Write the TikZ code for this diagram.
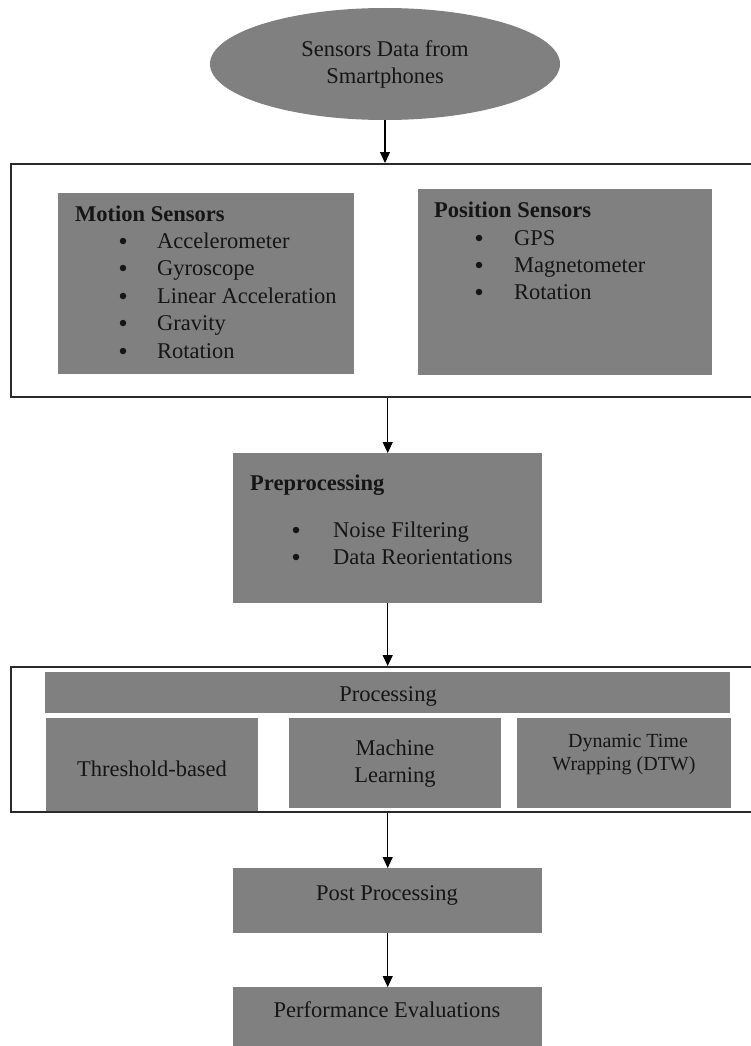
\documentclass[tikz,border=0pt]{standalone}
\usepackage{fontspec}
\setmainfont{Liberation Serif}
\usetikzlibrary{shapes.geometric,arrows.meta}
\definecolor{boxgray}{HTML}{808080}
\definecolor{ink}{HTML}{151515}
\definecolor{framec}{HTML}{2A2A2A}
\tikzset{
  gbox/.style={fill=boxgray, draw=none, inner sep=0pt, anchor=north west},
  frame/.style={draw=framec, line width=2pt, fill=none, inner sep=0pt, anchor=north west},
  arr/.style={draw=black, line width=1.1pt, -{Triangle[width=10pt,length=11pt]}},
  txt/.style={text=ink, inner sep=0pt, anchor=base west, font=\fontsize{22.5}{27.5}\selectfont},
  ctxt/.style={txt, anchor=base},
  btxt/.style={txt, font=\fontsize{22.5}{27.5}\selectfont\bfseries},
  stxt/.style={ctxt, font=\fontsize{20}{23}\selectfont},
  dot/.style={circle, fill=ink, draw=none, inner sep=0pt, minimum size=6.5pt},
}
\begin{document}
\begin{tikzpicture}[x=1pt,y=-1pt]
\useasboundingbox (0,0) rectangle (750,1046);

% source
\node[ellipse, fill=boxgray, draw=none, minimum width=350pt, minimum height=112pt,
      text=ink, align=center, font=\fontsize{22.5}{27}\selectfont] (src) at (385,64)
      {Sensors Data from\\Smartphones};

% sensor group
\node[frame, minimum width=750pt, minimum height=233pt] (frameA) at (10,163) {};
\node[gbox, minimum width=296pt, minimum height=181pt] (motion) at (58,193) {};
\node[gbox, minimum width=294pt, minimum height=186pt] (position) at (418,189) {};

\node[btxt] (motionT) at (75,221) {Motion Sensors};
\foreach \y/\t [count=\i] in {248/Accelerometer, 275/Gyroscope, 303/Linear Acceleration, 330/Gravity, 358/Rotation}{
  \node[dot] (mb\i) at (123,\y-7) {};
  \node[txt] (mi\i) at (157,\y) {\t};
}
\node[btxt] (positionT) at (434,217) {Position Sensors};
\foreach \y/\t [count=\i] in {245/GPS, 272/Magnetometer, 299/Rotation}{
  \node[dot] (pb\i) at (479,\y-7) {};
  \node[txt] (pi\i) at (514,\y) {\t};
}

% preprocessing
\node[gbox, minimum width=309pt, minimum height=150pt] (pre) at (233,453) {};
\node[btxt] (preT) at (250,490) {Preprocessing};
\node[dot] (preb1) at (296,530) {};
\node[txt] (prei1) at (333,537) {Noise Filtering};
\node[dot] (preb2) at (296,557) {};
\node[txt] (prei2) at (333,564) {Data Reorientations};

% processing group
\node[frame, minimum width=750pt, minimum height=145pt] (frameB) at (10,666) {};
\node[gbox, minimum width=685pt, minimum height=41pt] (proc) at (45,672) {};
\node[ctxt] (procT) at (388,701) {Processing};
\node[gbox, minimum width=212pt, minimum height=93pt] (thr) at (46,718) {};
\node[gbox, minimum width=212pt, minimum height=90pt] (ml) at (289,718) {};
\node[gbox, minimum width=214pt, minimum height=90pt] (dtw) at (517,718) {};
\node[ctxt] (thrT) at (152,776) {Threshold-based};
\node[ctxt] (mlT1) at (395,755) {Machine};
\node[ctxt] (mlT2) at (395,782) {Learning};
\node[stxt] (dtwT1) at (628,747) {Dynamic Time};
\node[stxt] (dtwT2) at (624,770) {Wrapping (DTW)};

% post stages
\node[gbox, minimum width=309pt, minimum height=65pt] (post) at (233,868) {};
\node[ctxt] (postT) at (387,900) {Post Processing};
\node[gbox, minimum width=309pt, minimum height=70pt] (perf) at (233,987) {};
\node[ctxt] (perfT) at (387,1017) {Performance Evaluations};

% flow
\draw[arr] (src.south) -- (src.south |- frameA.north);
\draw[arr] (frameA.south -| pre.north) -- (pre.north);
\draw[arr] (pre.south) -- (pre.south |- frameB.north);
\draw[arr] (frameB.south -| post.north) -- (post.north);
\draw[arr] (post.south) -- (perf.north);
\end{tikzpicture}
\end{document}
